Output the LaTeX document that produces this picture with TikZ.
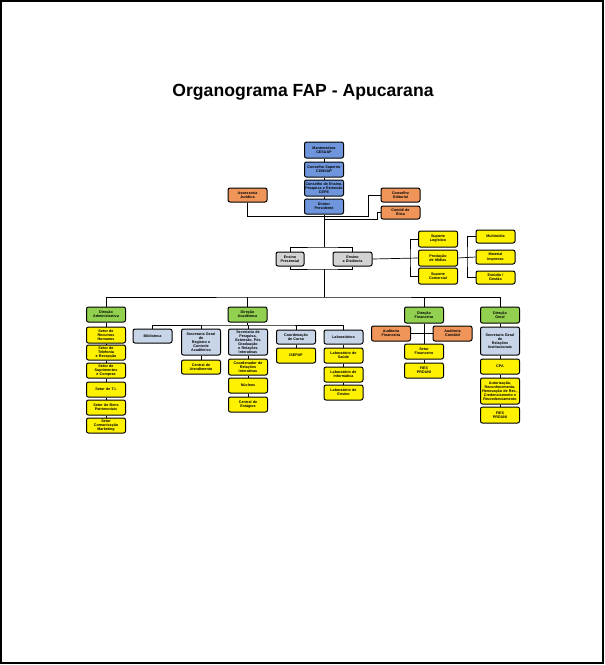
\documentclass[tikz,border=0pt]{standalone}
\usepackage{fontspec}
\newfontfamily\orgfont{Liberation Sans}
\usetikzlibrary{positioning}
\definecolor{consblue}{HTML}{6F96DC}
\definecolor{assorange}{HTML}{F0955A}
\definecolor{ensgray}{HTML}{D3D3D3}
\definecolor{dirgreen}{HTML}{92D050}
\definecolor{secblue}{HTML}{C8D4E8}
\tikzset{
  box/.style={
    draw=black,
    line width=1pt,
    rounded corners=2pt,
    align=center,
    text width=38pt,
    inner sep=0.5pt,
    font=\orgfont\bfseries\fontsize{3.7}{4.1}\selectfont,
  },
  cons/.style={box, fill=consblue},
  assess/.style={box, fill=assorange},
  ensino/.style={box, fill=ensgray},
  direc/.style={box, fill=dirgreen},
  secr/.style={box, fill=secblue},
  setor/.style={box, fill=yellow},
  link/.style={draw=black, line width=0.7pt}
}
\begin{document}
\begin{tikzpicture}[x=1pt, y=-1pt]
  \useasboundingbox (0,0) rectangle (605,665);
  \draw[line width=1.2pt] (1,1) rectangle (603,663);
  \node[font=\orgfont\bfseries\fontsize{17.6}{19}\selectfont] (title) at (303,92) {Organograma FAP - Apucarana};

  % conselhos e presidencia
  \node[cons, minimum height=16pt] (mant) at (324,150) {Mantenedora\\CESUAP};
  \node[cons, minimum height=15pt] (consup) at (324,169.5) {Conselho Superior\\CONSUP};
  \node[cons, minimum height=16pt] (cepe) at (324,188) {Conselho de Ensino,\\Pesquisa e Extensão\\CEPE};
  \node[cons, minimum height=15pt] (dirpres) at (324,206.5) {Diretor\\Presidente};
  \node[assess, minimum height=14pt] (assjur) at (247.5,195) {Assessoria\\Jurídica};
  \node[assess, minimum height=14pt] (consed) at (400.5,195) {Conselho\\Editorial};
  \node[assess, minimum height=13pt] (etica) at (400.5,212.5) {Comitê de\\Ética};

  % ensino
  \node[ensino, text width=27pt, minimum height=14pt] (ensp) at (290,259) {Ensino\\Presencial};
  \node[ensino, minimum height=14pt] (ensd) at (352.5,259) {Ensino\\a Distância};
  \node[setor, minimum height=16pt] (sulog) at (438,239) {Suporte\\Logístico};
  \node[setor, minimum height=16pt] (prod) at (438,258) {Produção\\de Mídias};
  \node[setor, minimum height=16pt] (sucom) at (438,276) {Suporte\\Comercial};
  \node[setor, minimum height=13pt] (multi) at (495.5,236.5) {Multimídia};
  \node[setor, minimum height=14pt] (matimp) at (495.5,257) {Material\\Impresso};
  \node[setor, minimum height=13pt] (estud) at (495.5,277.5) {Estúdio /\\Gestão};

  % direcao administrativa
  \node[direc, minimum height=15pt] (diradm) at (106,314.5) {Direção\\Administrativa};
  \node[setor, minimum height=16pt] (rh) at (106,335) {Setor de\\Recursos\\Humanos};
  \node[setor, minimum height=15pt] (tel) at (106,352.5) {Setor de\\Telefonia\\e Recepção};
  \node[setor, minimum height=15pt] (supr) at (106,370.5) {Setor de\\Suprimentos\\e Compras};
  \node[setor, minimum height=15pt] (ti) at (106,389.5) {Setor de T.I.};
  \node[setor, minimum height=15pt] (bens) at (106,407.5) {Setor de Bens\\Patrimoniais};
  \node[setor, minimum height=15pt] (comun) at (106,425.5) {Setor\\Comunicação\\Marketing};

  % direcao academica
  \node[direc, minimum height=15pt] (diracad) at (247.5,314.5) {Direção\\Acadêmica};
  \node[secr, minimum height=14pt] (biblio) at (152.5,336) {Biblioteca};
  \node[secr, minimum height=26pt] (secreg) at (201,342) {Secretaria Geral\\de\\Registro e\\Controle\\Acadêmico};
  \node[setor, minimum height=14pt] (central) at (201,367) {Central de\\Atendimento};
  \node[secr, minimum height=26pt, font=\orgfont\bfseries\fontsize{3.7}{3.9}\selectfont] (secpesq) at (248,342) {Secretaria de\\Pesquisa,\\Extensão, Pós\\Graduação\\e Relações\\Interativas};
  \node[setor, minimum height=16pt] (coordrel) at (248,367) {Coordenador de\\Relações\\Interativas};
  \node[setor, minimum height=15pt] (nucleos) at (248,385.5) {Núcleos};
  \node[setor, minimum height=15pt] (estag) at (248,404.5) {Central de\\Estágios};
  \node[secr, minimum height=14pt] (coord) at (296,337) {Coordenação\\de Curso};
  \node[setor, minimum height=15pt] (isepap) at (296,355.5) {ISEPAP};
  \node[secr, minimum height=14pt] (labs) at (343.5,337) {Laboratórios};
  \node[setor, minimum height=15pt] (labsau) at (343.5,355.5) {Laboratório de\\Saúde};
  \node[setor, minimum height=15pt] (labinf) at (343.5,374.5) {Laboratório de\\Informática};
  \node[setor, minimum height=15pt] (labens) at (343.5,392.5) {Laboratório de\\Ensino};

  % direcao financeira
  \node[direc, minimum height=16pt] (dirfin) at (424,315) {Direção\\Financeira};
  \node[assess, minimum height=15pt] (audfin) at (391,333.5) {Auditoria\\Financeira};
  \node[assess, minimum height=15pt] (audcon) at (452.5,333.5) {Auditoria\\Contábil};
  \node[setor, minimum height=15pt] (setfin) at (424,351.5) {Setor\\Financeiro};
  \node[setor, minimum height=15pt] (fiesfin) at (424,370.5) {FIES\\PROUNI};

  % direcao geral
  \node[direc, minimum height=16pt] (dirger) at (500,315) {Direção\\Geral};
  \node[secr, minimum height=28pt] (secrel) at (500,341) {Secretaria Geral\\de\\Relações\\Institucionais};
  \node[setor, minimum height=15pt] (cpa) at (500,366.5) {CPA};
  \node[setor, minimum height=26pt] (autor) at (500,391) {Autorização,\\Reconhecimento,\\Renovação de Rec.,\\Credenciamento e\\Recredenciamento};
  \node[setor, minimum height=16pt] (fiesger) at (500,415) {FIES\\PROUNI};

  % pontos de juncao
  \coordinate (presBus) at (324,216);
  \coordinate (eticaBus) at (324,219);
  \coordinate (ensTop) at (324,247);
  \coordinate (ensBot) at (324,269);
  \coordinate (ladoA) at (410,258);
  \coordinate (ladoB) at (467,257);
  \coordinate (mainBus) at (324,297);
  \coordinate (acadBus) at (247.5,325);

  % ligacoes
  \draw[link] (mant) -- (consup) -- (cepe) -- (dirpres);
  \draw[link] (dirpres.south) -- (ensTop);
  \draw[link] (assjur.south) |- (presBus);
  \draw[link] (consed.west) -| (368,216) -- (presBus);
  \draw[link] (etica.west) -| (377,219) -- (eticaBus);
  \draw[link] (ensp.north) |- (ensTop) -| (ensd.north);
  \draw[link] (ensp.south) |- (ensBot) -| (ensd.south);
  \draw[link] (ensd.east) -- (prod.west);
  \draw[link] (sulog.west) -| (ladoA) |- (sucom.west);
  \draw[link] (prod.east) -- (matimp.west);
  \draw[link] (multi.west) -| (ladoB) |- (estud.west);
  \draw[link] (ensBot) -- (mainBus);
  \draw[link] (diradm.north) |- (mainBus) -| (dirger.north);
  \draw[link] (diracad.north) -- (diracad.north |- mainBus);
  \draw[link] (dirfin.north) -- (dirfin.north |- mainBus);
  \draw[link] (diradm) -- (rh) -- (tel) -- (supr) -- (ti) -- (bens) -- (comun);
  \draw[link] (diracad.south) -- (acadBus);
  \draw[link] (biblio.north) |- (acadBus) -| (labs.north);
  \draw[link] (secreg.north) -- (secreg.north |- acadBus);
  \draw[link] (secpesq.north) -- (secpesq.north |- acadBus);
  \draw[link] (coord.north) -- (coord.north |- acadBus);
  \draw[link] (secreg) -- (central);
  \draw[link] (secpesq) -- (coordrel) -- (nucleos) -- (estag);
  \draw[link] (coord) -- (isepap);
  \draw[link] (labs) -- (labsau) -- (labinf) -- (labens);
  \draw[link] (audfin) -- (audcon);
  \draw[link] (dirfin) -- (setfin) -- (fiesfin);
  \draw[link] (dirger) -- (secrel) -- (cpa) -- (autor) -- (fiesger);
\end{tikzpicture}
\end{document}
